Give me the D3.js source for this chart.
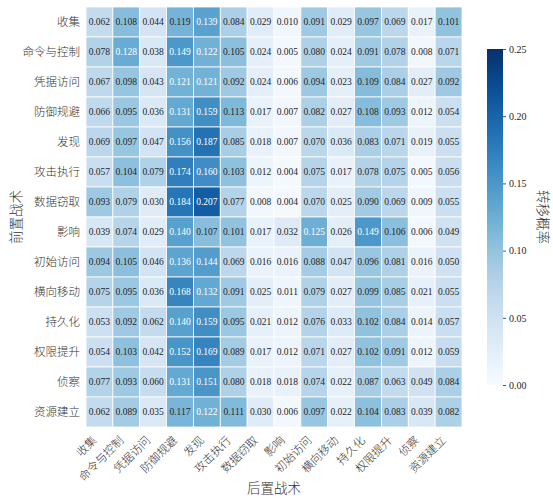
<!DOCTYPE html>
<html>
<head>
<meta charset="utf-8">
<title>战术转移概率热力图</title>
<script src="https://d3js.org/d3.v7.min.js"></script>
<style>
  body { margin: 0; background: #fff; }
  svg text { font-family: "Liberation Serif", "Noto Sans CJK SC", serif; }
  .cell-label { font-size: 9.5px; }
  .row-label, .col-label { font-size: 11.5px; fill: #333; font-weight: 300; }
  .axis-title { font-size: 13.5px; fill: #333; font-weight: 300; }
  .cbar-tick { font-size: 10px; fill: #262626; }
</style>
</head>
<body>
<script>
// tactics, same order on both axes
var tactics = ["收集", "命令与控制", "凭据访问", "防御规避", "发现", "攻击执行", "数据窃取",
               "影响", "初始访问", "横向移动", "持久化", "权限提升", "侦察", "资源建立"];

// transition probabilities, one row per preceding tactic
var rowCollection  = [0.062, 0.108, 0.044, 0.119, 0.139, 0.084, 0.029, 0.010, 0.091, 0.029, 0.097, 0.069, 0.017, 0.101];
var rowC2          = [0.078, 0.128, 0.038, 0.149, 0.122, 0.105, 0.024, 0.005, 0.080, 0.024, 0.091, 0.078, 0.008, 0.071];
var rowCredAccess  = [0.067, 0.098, 0.043, 0.121, 0.121, 0.092, 0.024, 0.006, 0.094, 0.023, 0.109, 0.084, 0.027, 0.092];
var rowDefEvasion  = [0.066, 0.095, 0.036, 0.131, 0.159, 0.113, 0.017, 0.007, 0.082, 0.027, 0.108, 0.093, 0.012, 0.054];
var rowDiscovery   = [0.069, 0.097, 0.047, 0.156, 0.187, 0.085, 0.018, 0.007, 0.070, 0.036, 0.083, 0.071, 0.019, 0.055];
var rowExecution   = [0.057, 0.104, 0.079, 0.174, 0.160, 0.103, 0.012, 0.004, 0.075, 0.017, 0.078, 0.075, 0.005, 0.056];
var rowExfil       = [0.093, 0.079, 0.030, 0.184, 0.207, 0.077, 0.008, 0.004, 0.070, 0.025, 0.090, 0.069, 0.009, 0.055];
var rowImpact      = [0.039, 0.074, 0.029, 0.140, 0.107, 0.101, 0.017, 0.032, 0.125, 0.026, 0.149, 0.106, 0.006, 0.049];
var rowInitAccess  = [0.094, 0.105, 0.046, 0.136, 0.144, 0.069, 0.016, 0.016, 0.088, 0.047, 0.096, 0.081, 0.016, 0.050];
var rowLateral     = [0.075, 0.095, 0.036, 0.168, 0.132, 0.091, 0.025, 0.011, 0.079, 0.027, 0.099, 0.085, 0.021, 0.055];
var rowPersistence = [0.053, 0.092, 0.062, 0.140, 0.159, 0.095, 0.021, 0.012, 0.076, 0.033, 0.102, 0.084, 0.014, 0.057];
var rowPrivEsc     = [0.054, 0.103, 0.042, 0.152, 0.169, 0.089, 0.017, 0.012, 0.071, 0.027, 0.102, 0.091, 0.012, 0.059];
var rowRecon       = [0.077, 0.093, 0.060, 0.131, 0.151, 0.080, 0.018, 0.018, 0.074, 0.022, 0.087, 0.063, 0.049, 0.084];
var rowResource    = [0.062, 0.089, 0.035, 0.117, 0.122, 0.111, 0.030, 0.006, 0.097, 0.022, 0.104, 0.083, 0.039, 0.082];

var cbarTicks = [0.00, 0.05, 0.10, 0.15, 0.20, 0.25];

var matrix = [rowCollection, rowC2, rowCredAccess, rowDefEvasion, rowDiscovery, rowExecution, rowExfil,
              rowImpact, rowInitAccess, rowLateral, rowPersistence, rowPrivEsc, rowRecon, rowResource];

var cells = [];
matrix.forEach(function(row, i) {
  row.forEach(function(v, j) {
    cells.push({from: tactics[i], to: tactics[j], value: v});
  });
});

var W = 553, H = 498;
var grid = {left: 86, right: 462, top: 7, bottom: 427};

var svg = d3.select("body").append("svg")
    .attr("width", W)
    .attr("height", H);

var x = d3.scaleBand().domain(tactics).range([grid.left, grid.right]);
var y = d3.scaleBand().domain(tactics).range([grid.top, grid.bottom]);
var color = d3.scaleSequential(d3.interpolateBlues).domain([0, 0.25]);

// cells
svg.append("g").selectAll("rect")
    .data(cells)
  .enter().append("rect")
    .attr("x", function(d) { return x(d.to); })
    .attr("y", function(d) { return y(d.from); })
    .attr("width", x.bandwidth())
    .attr("height", y.bandwidth())
    .attr("fill", function(d) { return color(d.value); })
    .attr("stroke", "#fff")
    .attr("stroke-width", 0.8);

svg.append("g").selectAll("text")
    .data(cells)
  .enter().append("text")
    .attr("class", "cell-label")
    .attr("x", function(d) { return x(d.to) + x.bandwidth() / 2; })
    .attr("y", function(d) { return y(d.from) + y.bandwidth() / 2; })
    .attr("dy", "0.35em")
    .attr("text-anchor", "middle")
    .attr("fill", function(d) { return d.value >= 0.12 ? "#ffffff" : "#262626"; })
    .text(function(d) { return d3.format(".3f")(d.value); });

// row labels
svg.append("g").selectAll("text")
    .data(tactics)
  .enter().append("text")
    .attr("class", "row-label")
    .attr("x", grid.left - 6)
    .attr("y", function(d) { return y(d) + y.bandwidth() / 2; })
    .attr("dy", "0.35em")
    .attr("text-anchor", "end")
    .text(function(d) { return d; });

// column labels, rotated
svg.append("g").selectAll("text")
    .data(tactics)
  .enter().append("text")
    .attr("class", "col-label")
    .attr("text-anchor", "end")
    .attr("transform", function(d) {
      return "translate(" + (x(d) + x.bandwidth() / 2 - 2) + "," + (grid.bottom + 14) + ") rotate(-45)";
    })
    .text(function(d) { return d; });

svg.append("text")
    .attr("class", "axis-title")
    .attr("x", (grid.left + grid.right) / 2)
    .attr("y", 493)
    .attr("text-anchor", "middle")
    .text("后置战术");

svg.append("text")
    .attr("class", "axis-title")
    .attr("transform", "translate(21," + ((grid.top + grid.bottom) / 2) + ") rotate(-90)")
    .attr("text-anchor", "middle")
    .text("前置战术");

// colorbar
var cbar = {x: 487, w: 16, top: 49, bottom: 385};
var cy = d3.scaleLinear().domain([0, 0.25]).range([cbar.bottom, cbar.top]);

var grad = svg.append("defs").append("linearGradient")
    .attr("id", "cbar-grad")
    .attr("x1", "0").attr("y1", "1")
    .attr("x2", "0").attr("y2", "0");
grad.selectAll("stop")
    .data(d3.range(0, 1.0001, 0.05))
  .enter().append("stop")
    .attr("offset", function(t) { return (t * 100) + "%"; })
    .attr("stop-color", function(t) { return color(t * 0.25); });

svg.append("rect")
    .attr("x", cbar.x)
    .attr("y", cbar.top)
    .attr("width", cbar.w)
    .attr("height", cbar.bottom - cbar.top)
    .attr("fill", "url(#cbar-grad)");

var cAxis = d3.axisRight(cy)
    .tickValues(cbarTicks)
    .tickFormat(d3.format(".2f"))
    .tickSize(3)
    .tickPadding(3);

var cg = svg.append("g")
    .attr("transform", "translate(" + (cbar.x + cbar.w) + ",0)")
    .call(cAxis);
cg.select(".domain").remove();
cg.selectAll(".tick line").attr("stroke", "#262626").attr("stroke-width", 0.8);
cg.selectAll(".tick text").attr("class", "cbar-tick").attr("fill", "#262626")
    .style("font-family", "'Liberation Serif', serif").style("font-size", "10px");

svg.append("text")
    .attr("class", "axis-title")
    .attr("transform", "translate(538," + ((cbar.top + cbar.bottom) / 2) + ") rotate(90)")
    .attr("text-anchor", "middle")
    .text("转移概率");
</script>
</body>
</html>
